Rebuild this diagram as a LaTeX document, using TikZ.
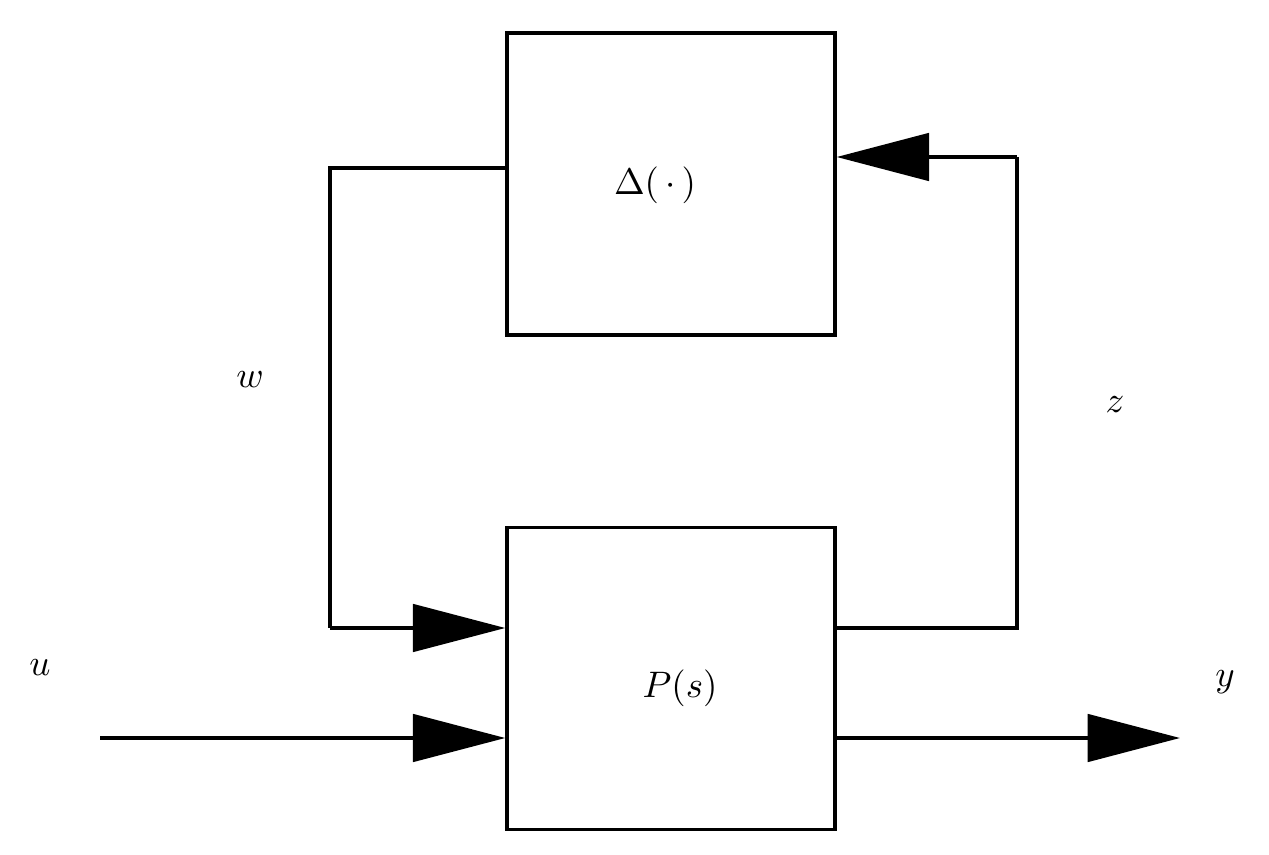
\documentclass[tikz,border=0pt]{standalone}
\usepackage{fontspec}
\usepackage{graphicx}
\usetikzlibrary{arrows.meta}
\newcommand{\bigtxt}[1]{\scalebox{2.1}{$#1$}}
\begin{document}
\begin{tikzpicture}[x=0.02cm,y=-0.02cm,line width=2pt,
  blk/.style={draw,line width=2pt,minimum width=6.56cm,minimum height=6.04cm,inner sep=0},
  arr/.style={-{Triangle[length=1.85cm,width=0.95cm]}},
  lab/.style={}]
\useasboundingbox (0,0) rectangle (1269,855);
\node[blk] (D) at (671,184) {};
\node[blk] (P) at (671,678.5) {};
\node[lab] at (655,185) {\bigtxt{\Delta(\,\cdot\,)}};
\node[lab] at (680,688) {\bigtxt{P(s)}};
\coordinate (wl) at (330,168);
\coordinate (wb) at (330,628);
\coordinate (zr) at (1017,628);
\coordinate (zt) at (1017,157);
\coordinate (uin) at (100,738);
\coordinate (yout) at (1180,738);
\draw (D.west |- wl) -- (wl) -- (wb);
\draw[arr] (wb) -- (P.west |- wb);
\draw (P.east |- zr) -- (zr) -- (zt);
\draw[arr] (zt) -- (D.east |- zt);
\draw[arr] (uin) -- (P.west |- uin);
\draw[arr] (P.east |- yout) -- (yout);
\node[lab] at (40,668) {\bigtxt{u}};
\node[lab] at (1225,682) {\bigtxt{y}};
\node[lab] at (250,380) {\bigtxt{w}};
\node[lab] at (1115,405) {\bigtxt{z}};
\end{tikzpicture}
\end{document}
